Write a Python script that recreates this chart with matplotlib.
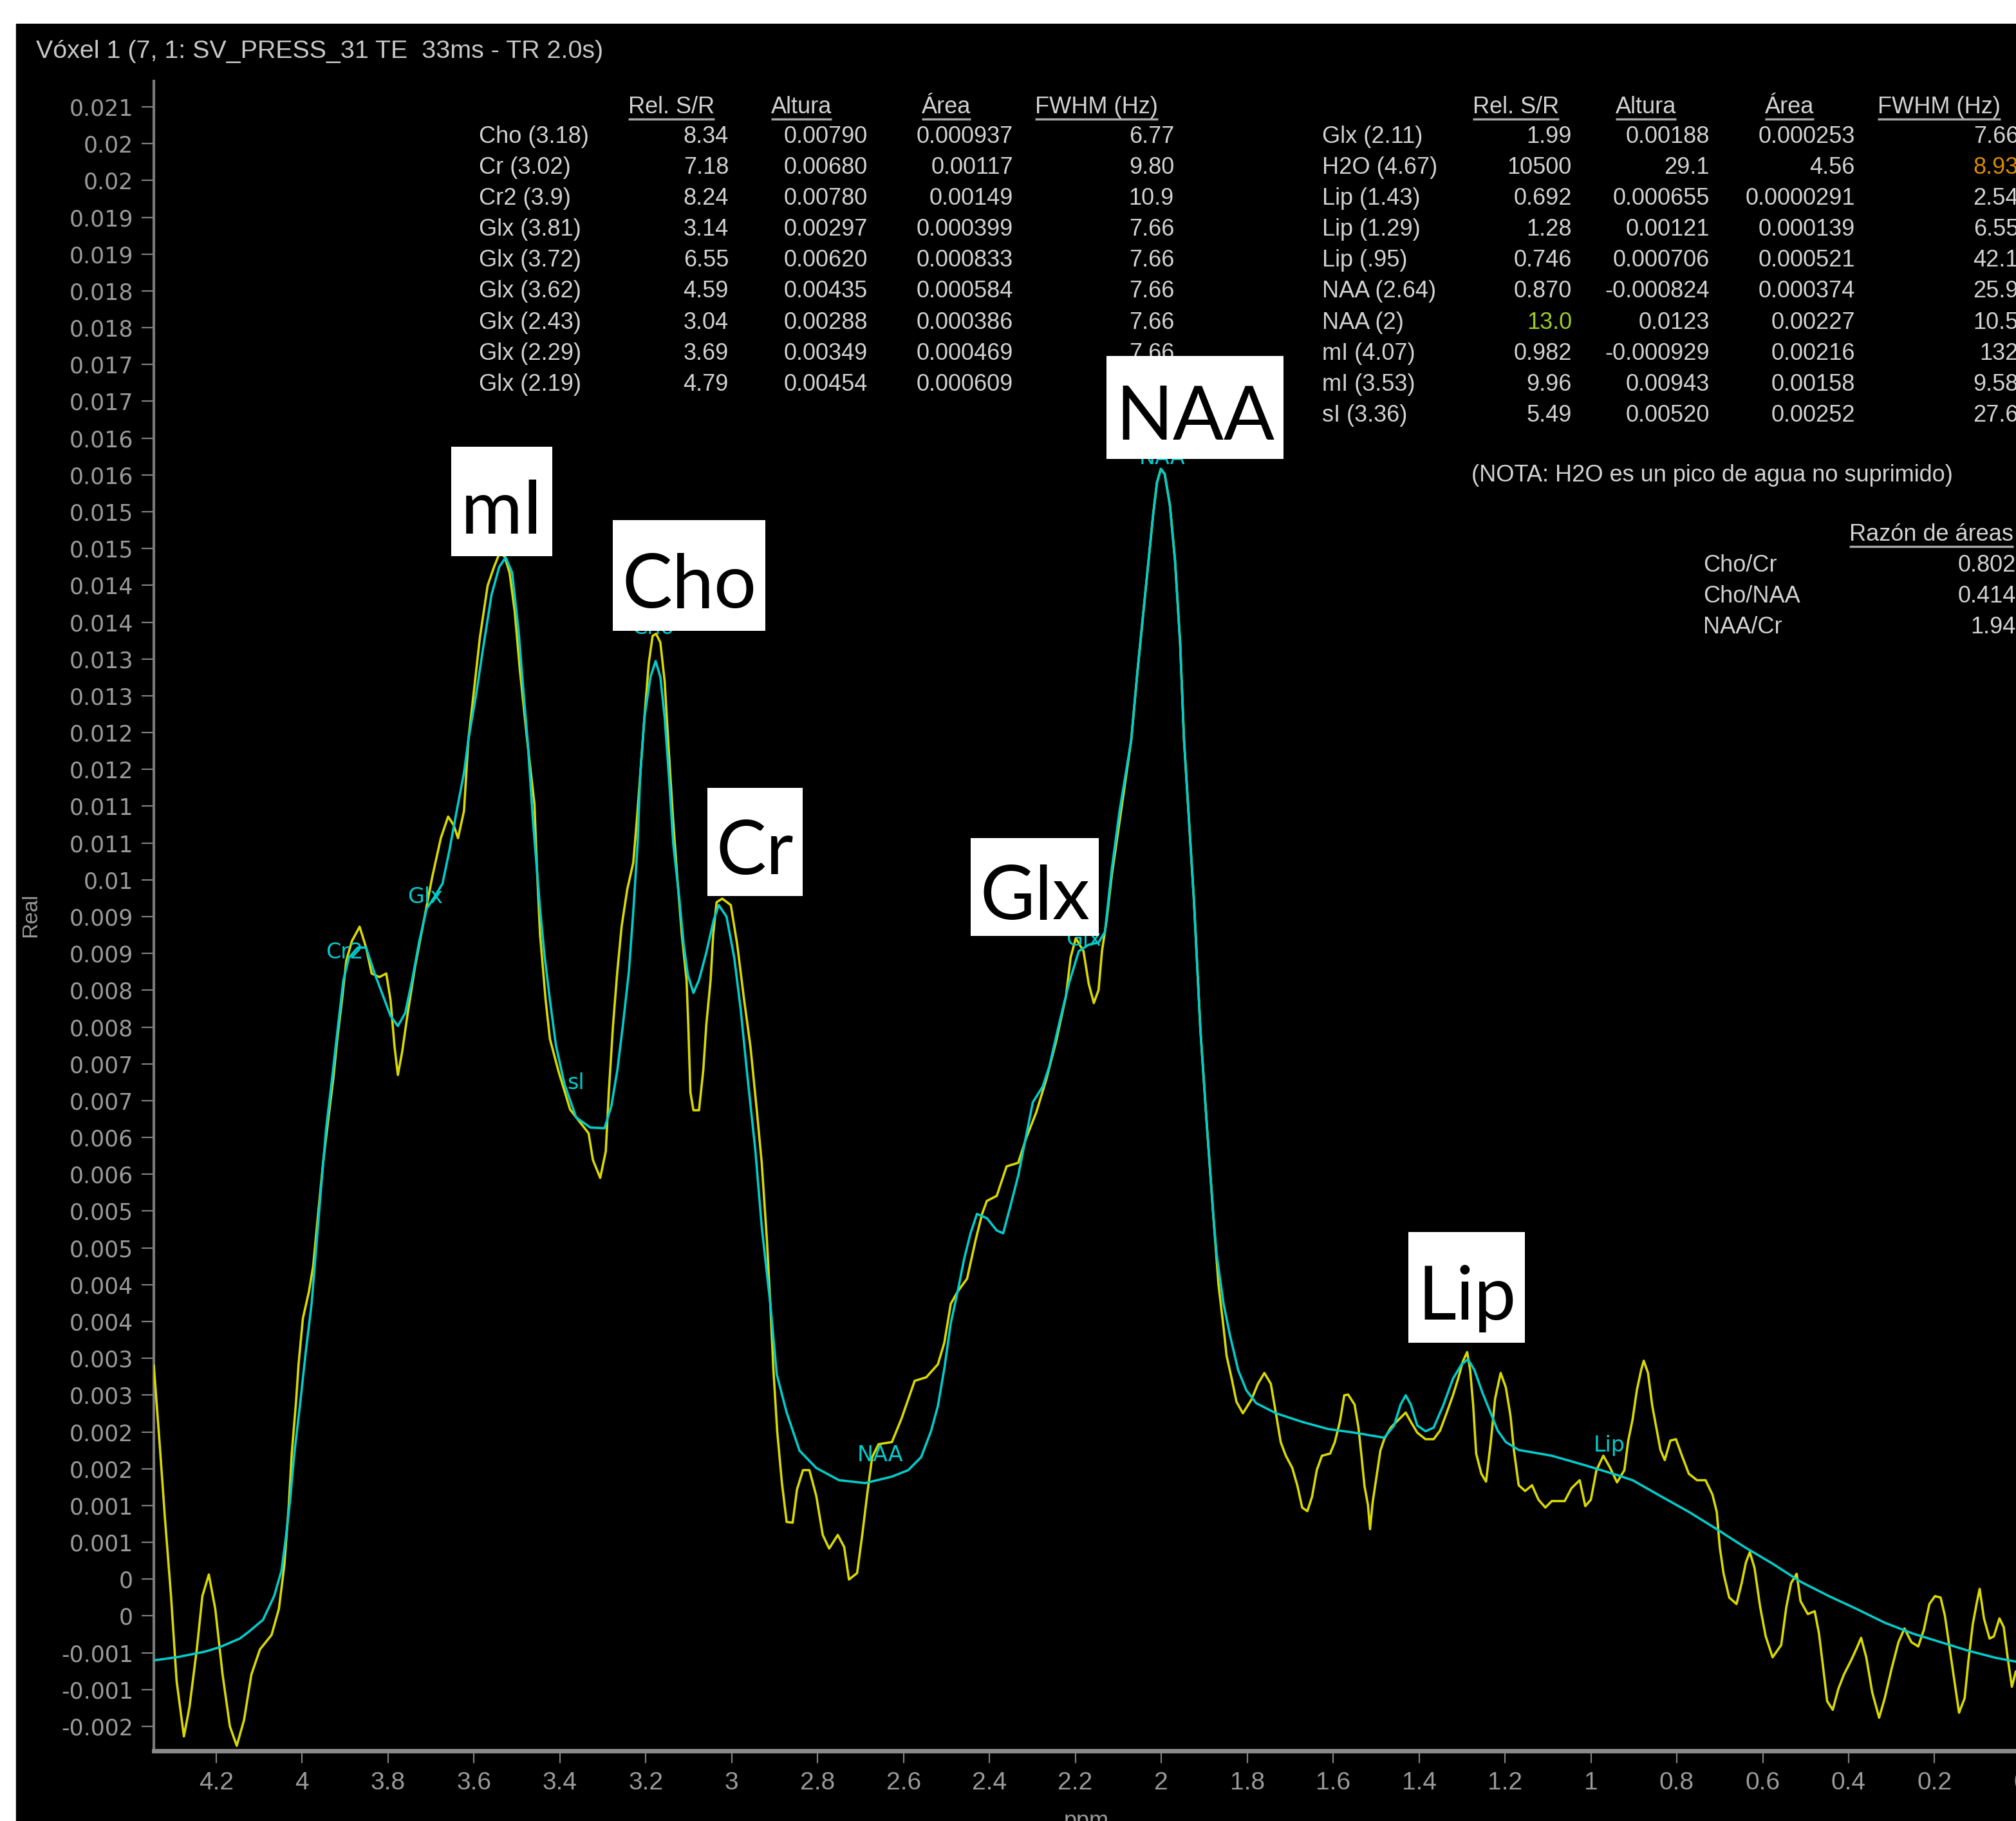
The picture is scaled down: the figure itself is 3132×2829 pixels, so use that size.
import numpy as np
import matplotlib
matplotlib.use("Agg")
import matplotlib.pyplot as plt
from matplotlib import font_manager
from matplotlib.patches import Rectangle

# --- espectro medido (amarillo) ---
ppm_real = np.array([
    4.345, 4.332, 4.319, 4.305, 4.292, 4.275, 4.262, 4.245, 4.232, 4.217,
    4.202, 4.185, 4.168, 4.152, 4.135, 4.118, 4.098, 4.071, 4.054, 4.041,
    4.031, 4.024, 4.014, 4.008, 3.998, 3.984, 3.974, 3.964, 3.951, 3.938,
    3.927, 3.918, 3.907, 3.897, 3.884, 3.866, 3.851, 3.838, 3.820, 3.804,
    3.794, 3.785, 3.777, 3.767, 3.754, 3.737, 3.717, 3.697, 3.677, 3.660,
    3.647, 3.637, 3.623, 3.613, 3.601, 3.586, 3.568, 3.553, 3.541, 3.529,
    3.517, 3.505, 3.493, 3.476, 3.459, 3.453, 3.446, 3.433, 3.423, 3.403,
    3.376, 3.350, 3.333, 3.323, 3.306, 3.293, 3.286, 3.276, 3.266, 3.256,
    3.243, 3.229, 3.221, 3.213, 3.203, 3.193, 3.184, 3.176, 3.166, 3.156,
    3.146, 3.136, 3.126, 3.116, 3.105, 3.101, 3.096, 3.089, 3.076, 3.066,
    3.059, 3.049, 3.043, 3.035, 3.022, 3.002, 2.987, 2.972, 2.956, 2.941,
    2.930, 2.918, 2.910, 2.903, 2.894, 2.883, 2.872, 2.858, 2.848, 2.834,
    2.819, 2.803, 2.788, 2.773, 2.753, 2.738, 2.727, 2.708, 2.696, 2.685,
    2.673, 2.658, 2.627, 2.605, 2.574, 2.547, 2.520, 2.505, 2.490, 2.474,
    2.452, 2.432, 2.417, 2.406, 2.383, 2.360, 2.333, 2.314, 2.291, 2.268,
    2.245, 2.222, 2.211, 2.199, 2.181, 2.169, 2.157, 2.146, 2.138, 2.127,
    2.115, 2.100, 2.085, 2.070, 2.055, 2.043, 2.031, 2.019, 2.010, 2.001,
    1.992, 1.980, 1.968, 1.956, 1.947, 1.935, 1.924, 1.909, 1.894, 1.878,
    1.867, 1.855, 1.848, 1.836, 1.825, 1.810, 1.790, 1.775, 1.760, 1.745,
    1.732, 1.722, 1.710, 1.695, 1.683, 1.672, 1.660, 1.649, 1.638, 1.626,
    1.607, 1.596, 1.584, 1.574, 1.565, 1.550, 1.541, 1.534, 1.527, 1.519,
    1.514, 1.508, 1.500, 1.490, 1.481, 1.466, 1.446, 1.431, 1.419, 1.404,
    1.385, 1.366, 1.351, 1.336, 1.321, 1.309, 1.298, 1.288, 1.281, 1.274,
    1.267, 1.255, 1.244, 1.233, 1.223, 1.210, 1.198, 1.187, 1.179, 1.168,
    1.153, 1.137, 1.122, 1.106, 1.091, 1.061, 1.045, 1.026, 1.013, 1.000,
    0.987, 0.971, 0.955, 0.939, 0.922, 0.913, 0.903, 0.893, 0.883, 0.877,
    0.867, 0.857, 0.847, 0.838, 0.828, 0.815, 0.802, 0.788, 0.772, 0.753,
    0.733, 0.717, 0.707, 0.700, 0.691, 0.678, 0.661, 0.649, 0.639, 0.630,
    0.619, 0.606, 0.593, 0.577, 0.557, 0.545, 0.534, 0.521, 0.512, 0.495,
    0.479, 0.469, 0.459, 0.450, 0.437, 0.424, 0.411, 0.394, 0.381, 0.371,
    0.359, 0.345, 0.329, 0.316, 0.300, 0.284, 0.270, 0.254, 0.238, 0.225,
    0.212, 0.199, 0.186, 0.176, 0.166, 0.157, 0.143, 0.130, 0.121, 0.111,
    0.101, 0.095, 0.085, 0.072, 0.062, 0.049, 0.039, 0.029, 0.020, 0.011])
real = np.array([
    0.00351, 0.00247, 0.00138, 0.00031, -0.00087, -0.00164, -0.00123, -0.00043, 0.00031, 0.00061,
    0.00013, -0.00078, -0.00150, -0.00177, -0.00141, -0.00078, -0.00043, -0.00023, 0.00013, 0.00075,
    0.00156, 0.00229, 0.00301, 0.00354, 0.00417, 0.00454, 0.00490, 0.00553, 0.00633, 0.00698,
    0.00751, 0.00805, 0.00859, 0.00914, 0.00941, 0.00961, 0.00932, 0.00896, 0.00891, 0.00896,
    0.00859, 0.00796, 0.00755, 0.00787, 0.00841, 0.00905, 0.00968, 0.01030, 0.01084, 0.01114,
    0.01102, 0.01084, 0.01122, 0.01220, 0.01283, 0.01363, 0.01435, 0.01461, 0.01479, 0.01476,
    0.01453, 0.01399, 0.01318, 0.01220, 0.01131, 0.01039, 0.00950, 0.00859, 0.00805, 0.00760,
    0.00707, 0.00687, 0.00674, 0.00637, 0.00612, 0.00649, 0.00731, 0.00825, 0.00900, 0.00962,
    0.01013, 0.01050, 0.01107, 0.01170, 0.01252, 0.01327, 0.01365, 0.01368, 0.01356, 0.01302,
    0.01202, 0.01107, 0.01025, 0.00950, 0.00887, 0.00825, 0.00731, 0.00706, 0.00706, 0.00762,
    0.00825, 0.00887, 0.00950, 0.00995, 0.01000, 0.00991, 0.00936, 0.00864, 0.00793, 0.00703,
    0.00633, 0.00526, 0.00437, 0.00347, 0.00260, 0.00188, 0.00134, 0.00133, 0.00179, 0.00206,
    0.00206, 0.00170, 0.00116, 0.00097, 0.00116, 0.00099, 0.00054, 0.00063, 0.00116, 0.00170,
    0.00224, 0.00242, 0.00245, 0.00277, 0.00330, 0.00335, 0.00353, 0.00383, 0.00437, 0.00454,
    0.00472, 0.00526, 0.00562, 0.00580, 0.00587, 0.00628, 0.00633, 0.00668, 0.00703, 0.00748,
    0.00801, 0.00864, 0.00918, 0.00945, 0.00927, 0.00882, 0.00855, 0.00873, 0.00927, 0.00971,
    0.01033, 0.01095, 0.01157, 0.01220, 0.01318, 0.01390, 0.01461, 0.01533, 0.01578, 0.01597,
    0.01590, 0.01547, 0.01470, 0.01354, 0.01220, 0.01104, 0.00998, 0.00819, 0.00686, 0.00553,
    0.00465, 0.00404, 0.00365, 0.00333, 0.00301, 0.00285, 0.00304, 0.00326, 0.00341, 0.00326,
    0.00281, 0.00245, 0.00226, 0.00209, 0.00184, 0.00154, 0.00149, 0.00169, 0.00206, 0.00226,
    0.00229, 0.00245, 0.00274, 0.00310, 0.00311, 0.00297, 0.00265, 0.00226, 0.00184, 0.00158,
    0.00124, 0.00161, 0.00193, 0.00233, 0.00249, 0.00265, 0.00277, 0.00286, 0.00273, 0.00258,
    0.00249, 0.00249, 0.00261, 0.00285, 0.00310, 0.00333, 0.00357, 0.00370, 0.00345, 0.00297,
    0.00229, 0.00201, 0.00190, 0.00245, 0.00305, 0.00341, 0.00321, 0.00281, 0.00233, 0.00185,
    0.00177, 0.00185, 0.00165, 0.00154, 0.00163, 0.00163, 0.00181, 0.00192, 0.00156, 0.00165,
    0.00206, 0.00226, 0.00209, 0.00189, 0.00206, 0.00247, 0.00276, 0.00317, 0.00345, 0.00358,
    0.00341, 0.00295, 0.00263, 0.00234, 0.00220, 0.00247, 0.00249, 0.00226, 0.00201, 0.00192,
    0.00192, 0.00172, 0.00148, 0.00099, 0.00062, 0.00029, 0.00020, 0.00049, 0.00078, 0.00092,
    0.00070, 0.00016, -0.00025, -0.00054, -0.00037, 0.00016, 0.00049, 0.00062, 0.00024, 0.00006,
    0.00010, -0.00021, -0.00070, -0.00115, -0.00127, -0.00098, -0.00078, -0.00058, -0.00041, -0.00027,
    -0.00054, -0.00103, -0.00138, -0.00111, -0.00070, -0.00033, -0.00014, -0.00033, -0.00039, -0.00016,
    0.00020, 0.00031, 0.00029, 0.00004, -0.00037, -0.00074, -0.00131, -0.00111, -0.00058, -0.00008,
    0.00024, 0.00041, 0.00000, -0.00028, -0.00025, 0.00000, -0.00012, -0.00058, -0.00095, -0.00074])

# --- ajuste del modelo (cian) ---
ppm_fit = np.array([
    4.342, 4.292, 4.225, 4.192, 4.145, 4.125, 4.091, 4.065, 4.048, 4.038,
    4.028, 4.018, 4.004, 3.991, 3.978, 3.968, 3.957, 3.944, 3.930, 3.918,
    3.904, 3.891, 3.870, 3.851, 3.831, 3.811, 3.794, 3.777, 3.760, 3.744,
    3.727, 3.710, 3.690, 3.673, 3.657, 3.640, 3.623, 3.613, 3.595, 3.577,
    3.559, 3.541, 3.526, 3.511, 3.496, 3.484, 3.475, 3.463, 3.446, 3.436,
    3.423, 3.409, 3.389, 3.362, 3.329, 3.296, 3.280, 3.266, 3.253, 3.239,
    3.229, 3.219, 3.213, 3.203, 3.189, 3.177, 3.166, 3.156, 3.146, 3.136,
    3.122, 3.112, 3.102, 3.089, 3.076, 3.059, 3.042, 3.030, 3.012, 2.994,
    2.979, 2.964, 2.945, 2.930, 2.910, 2.895, 2.872, 2.842, 2.803, 2.750,
    2.689, 2.627, 2.589, 2.559, 2.536, 2.520, 2.505, 2.490, 2.474, 2.459,
    2.444, 2.429, 2.406, 2.383, 2.368, 2.352, 2.333, 2.318, 2.299, 2.276,
    2.261, 2.237, 2.215, 2.192, 2.169, 2.146, 2.131, 2.115, 2.097, 2.070,
    2.055, 2.043, 2.031, 2.019, 2.010, 2.001, 1.992, 1.980, 1.968, 1.956,
    1.947, 1.935, 1.924, 1.909, 1.894, 1.878,
    1.871, 1.855, 1.840, 1.821, 1.802, 1.779, 1.733, 1.672, 1.611, 1.550,
    1.481, 1.458, 1.443, 1.431, 1.419, 1.404, 1.385, 1.366, 1.343, 1.321,
    1.301, 1.286, 1.271, 1.252, 1.233, 1.217, 1.198, 1.168, 1.091, 1.015,
    0.938, 0.903, 0.838, 0.772, 0.707, 0.642, 0.577, 0.512, 0.446, 0.381,
    0.316, 0.251, 0.186, 0.121, 0.056, 0.011])
fit = np.array([
    -0.00058, -0.00054, -0.00046, -0.00040, -0.00028, -0.00019, -0.00002, 0.00031, 0.00066, 0.00111,
    0.00163, 0.00229, 0.00301, 0.00372, 0.00436, 0.00508, 0.00589, 0.00680, 0.00751, 0.00814,
    0.00886, 0.00918, 0.00932, 0.00932, 0.00896, 0.00864, 0.00837, 0.00823, 0.00841, 0.00886,
    0.00941, 0.00986, 0.01004, 0.01021, 0.01067, 0.01122, 0.01175, 0.01220, 0.01283, 0.01354,
    0.01422, 0.01461, 0.01474, 0.01453, 0.01372, 0.01283, 0.01220, 0.01112, 0.00986, 0.00923,
    0.00859, 0.00796, 0.00742, 0.00696, 0.00682, 0.00681, 0.00712, 0.00762, 0.00825, 0.00900,
    0.00982, 0.01076, 0.01170, 0.01252, 0.01308, 0.01330, 0.01308, 0.01252, 0.01170, 0.01076,
    0.01001, 0.00938, 0.00894, 0.00869, 0.00887, 0.00925, 0.00970, 0.00991, 0.00975, 0.00918,
    0.00846, 0.00757, 0.00651, 0.00544, 0.00437, 0.00339, 0.00286, 0.00233, 0.00209, 0.00192,
    0.00188, 0.00197, 0.00206, 0.00224, 0.00260, 0.00295, 0.00347, 0.00410, 0.00454, 0.00499,
    0.00535, 0.00562, 0.00556, 0.00539, 0.00535, 0.00571, 0.00615, 0.00660, 0.00717, 0.00739,
    0.00766, 0.00828, 0.00882, 0.00927, 0.00936, 0.00939, 0.00954, 0.01042, 0.01122, 0.01220,
    0.01318, 0.01390, 0.01461, 0.01533, 0.01578, 0.01597, 0.01590, 0.01547, 0.01470, 0.01354,
    0.01220, 0.01104, 0.00998, 0.00819, 0.00686, 0.00553,
    0.00505, 0.00437, 0.00393, 0.00345, 0.00317, 0.00299, 0.00285, 0.00273, 0.00263, 0.00258,
    0.00251, 0.00268, 0.00297, 0.00310, 0.00297, 0.00268, 0.00260, 0.00265, 0.00297, 0.00333,
    0.00353, 0.00360, 0.00345, 0.00313, 0.00285, 0.00261, 0.00245, 0.00234, 0.00226, 0.00213,
    0.00199, 0.00192, 0.00170, 0.00148, 0.00124, 0.00099, 0.00076, 0.00051, 0.00031, 0.00013,
    -0.00006, -0.00021, -0.00033, -0.00045, -0.00055, -0.00060])

# ejes
ytick_labels = ['0.021', '0.02', '0.02', '0.019', '0.019', '0.018', '0.018', '0.017', '0.017',
                '0.016', '0.016', '0.015', '0.015', '0.014', '0.014', '0.013', '0.013', '0.012',
                '0.012', '0.011', '0.011', '0.01', '0.009', '0.009', '0.008', '0.008', '0.007',
                '0.007', '0.006', '0.006', '0.005', '0.005', '0.004', '0.004', '0.003', '0.003',
                '0.002', '0.002', '0.001', '0.001', '0', '0', '-0.001', '-0.001', '-0.002']
xtick_vals = [4.2, 4.0, 3.8, 3.6, 3.4, 3.2, 3.0, 2.8, 2.6, 2.4, 2.2, 2.0,
              1.8, 1.6, 1.4, 1.2, 1.0, 0.8, 0.6, 0.4, 0.2, 0.0]
xtick_labels = ['4.2', '4', '3.8', '3.6', '3.4', '3.2', '3', '2.8', '2.6', '2.4', '2.2', '2',
                '1.8', '1.6', '1.4', '1.2', '1', '0.8', '0.6', '0.4', '0.2', '0']

# tabla de picos (izquierda)
left_names = ['Cho (3.18)', 'Cr (3.02)', 'Cr2 (3.9)', 'Glx (3.81)', 'Glx (3.72)',
              'Glx (3.62)', 'Glx (2.43)', 'Glx (2.29)', 'Glx (2.19)']
left_snr = ['8.34', '7.18', '8.24', '3.14', '6.55', '4.59', '3.04', '3.69', '4.79']
left_alt = ['0.00790', '0.00680', '0.00780', '0.00297', '0.00620', '0.00435',
            '0.00288', '0.00349', '0.00454']
left_area = ['0.000937', '0.00117', '0.00149', '0.000399', '0.000833', '0.000584',
             '0.000386', '0.000469', '0.000609']
left_fwhm = ['6.77', '9.80', '10.9', '7.66', '7.66', '7.66', '7.66', '7.66', '7.66']

# tabla de picos (derecha)
right_names = ['Glx (2.11)', 'H2O (4.67)', 'Lip (1.43)', 'Lip (1.29)', 'Lip (.95)',
               'NAA (2.64)', 'NAA (2)', 'mI (4.07)', 'mI (3.53)', 'sI (3.36)']
right_snr = ['1.99', '10500', '0.692', '1.28', '0.746', '0.870', '13.0', '0.982', '9.96', '5.49']
right_alt = ['0.00188', '29.1', '0.000655', '0.00121', '0.000706', '-0.000824',
             '0.0123', '-0.000929', '0.00943', '0.00520']
right_area = ['0.000253', '4.56', '0.0000291', '0.000139', '0.000521', '0.000374',
              '0.00227', '0.00216', '0.00158', '0.00252']
right_fwhm = ['7.66', '8.93', '2.54', '6.55', '42.1', '25.9', '10.5', '132', '9.58', '27.6']

ratio_names = ['Cho/Cr', 'Cho/NAA', 'NAA/Cr']
ratio_vals = ['0.802', '0.414', '1.94']

# etiquetas grandes de los picos (centro de la caja y alto en px)
peak_labels = ['mI', 'Cho', 'Cr', 'Glx', 'NAA', 'Lip']
peak_ppm = [3.535, 3.099, 2.946, 2.294, 1.921, 1.289]
peak_y = [0.01552, 0.01449, 0.01079, 0.01016, 0.01682, 0.00460]
peak_box_h = [170, 172, 168, 152, 160, 172]

# marcas del ajuste sobre la curva
tag_names = ['Cr2', 'Glx', 'Cho', 'sl', 'NAA', 'Glx', 'NAA', 'Lip']
tag_ppm = [3.945, 3.754, 3.232, 3.382, 2.708, 2.222, 2.052, 0.994]
tag_y = [0.00925, 0.01002, 0.01376, 0.00744, 0.00227, 0.00943, 0.01612, 0.00240]

W, H = 3132, 2829
YELLOW = '#d8d800'
CYAN = '#00cccc'
TXT = '#d2d2d2'
GREY = '#9a9a9a'

# letra estrecha si esta instalada, si no la normal
_installed = {f.name for f in font_manager.fontManager.ttflist}
if 'Liberation Sans Narrow' in _installed:
    SANS, K = 'Liberation Sans Narrow', 1.18
else:
    SANS, K = 'Liberation Sans', 1.0
FS = 26 * K

fig = plt.figure(figsize=(W / 100, H / 100), dpi=100)
fig.patch.set_facecolor('white')

# capa de fondo en pixeles: panel negro y textos
bg = fig.add_axes([0, 0, 1, 1])
bg.set_xlim(0, W)
bg.set_ylim(H, 0)
bg.axis('off')
bg.set_zorder(0)
bg.add_patch(Rectangle((25, 37), W, H, color='black', zorder=0))

bg.text(56, 80, 'Vóxel 1 (7, 1: SV_PRESS_31 TE  33ms - TR 2.0s)', color='#c8c8c8',
        fontsize=28.4 * K, family=SANS, ha='left', va='center')

renderer = fig.canvas.get_renderer()


def header(x, y, s, ha='left'):
    t = bg.text(x, y, s, color=TXT, fontsize=FS, family=SANS, ha=ha, va='center')
    bb = t.get_window_extent(renderer)
    bg.plot([bb.x0, bb.x1], [y + 19, y + 19], color='#a8a8a8', lw=2.5,
            solid_capstyle='butt')


def table(x_name, head_x, right_x, names, cols, y0=212, step=48.2, colors=None):
    heads = ['Rel. S/R', 'Altura', 'Área', 'FWHM (Hz)']
    for hx, h in zip(head_x, heads):
        header(hx, y0 - 46, h)
    for i, name in enumerate(names):
        y = y0 + step * i
        bg.text(x_name, y, name, color=TXT, fontsize=FS, family=SANS, ha='left', va='center')
        for j, (rx, col) in enumerate(zip(right_x, cols)):
            c = TXT
            if colors and (i, j) in colors:
                c = colors[(i, j)]
            bg.text(rx, y, col[i], color=c, fontsize=FS, family=SANS, ha='right', va='center')


table(744, [976, 1198, 1432, 1608], [1132, 1348, 1574, 1824],
      left_names, [left_snr, left_alt, left_area, left_fwhm])
table(2054, [2288, 2510, 2742, 2917], [2442, 2656, 2882, 3136],
      right_names, [right_snr, right_alt, right_area, right_fwhm],
      colors={(6, 0): '#9ccc22', (1, 3): '#d88a00'})

bg.text(2286, 738, '(NOTA: H2O es un pico de agua no suprimido)', color=TXT,
        fontsize=FS, family=SANS, ha='left', va='center')
t = bg.text(3128, 830, 'Razón de áreas', color=TXT, fontsize=FS, family=SANS,
            ha='right', va='center')
bb = t.get_window_extent(renderer)
bg.plot([bb.x0, bb.x1], [849, 849], color='#a8a8a8', lw=2.5, solid_capstyle='butt')
for i, (n, v) in enumerate(zip(ratio_names, ratio_vals)):
    y = 878 + 48.5 * i
    bg.text(2646, y, n, color=TXT, fontsize=FS, family=SANS, ha='left', va='center')
    bg.text(3132, y, v, color=TXT, fontsize=FS, family=SANS, ha='right', va='center')

bg.text(48, 1422, 'Real', color=GREY, fontsize=24 * K, family=SANS, rotation=90,
        ha='center', va='center')
bg.text(1688, 2812, 'ppm', color=GREY, fontsize=26 * K, family=SANS, ha='center', va='top')

# espectro
ax = fig.add_axes([239 / W, 109 / H, 2940 / W, 2594 / H])
ax.set_zorder(1)
ax.set_facecolor('none')
ax.set_xlim(4.345, -0.06)
ax.set_ylim(-0.00184, 0.021358)

ax.plot(ppm_real, real, color=YELLOW, lw=2.6, zorder=3)
ax.plot(ppm_fit, fit, color=CYAN, lw=2.6, zorder=4)

for n, p, v in zip(tag_names, tag_ppm, tag_y):
    ax.text(p, v, n, color=CYAN, fontsize=24, family='DejaVu Sans', ha='left',
            va='center', zorder=5)

# cajas blancas con el nombre del metabolito
LABEL_FS = 84
cap_px = 0.7165 * LABEL_FS * 100 / 72
inv = ax.transData.inverted()
for lab, p, v, bh in zip(peak_labels, peak_ppm, peak_y, peak_box_h):
    cx, cy = ax.transData.transform((p, v))
    bx, by = inv.transform((cx, cy - 8 - cap_px / 2))
    t = ax.text(bx, by, lab, color='black', fontsize=LABEL_FS, family='Lato',
                ha='center', va='baseline', zorder=7)
    w = t.get_window_extent(renderer).width + 28
    x0, y0 = inv.transform((cx - w / 2, cy - bh / 2))
    x1, y1 = inv.transform((cx + w / 2, cy + bh / 2))
    ax.add_patch(Rectangle((x0, y0), x1 - x0, y1 - y0, fc='white', ec='none', zorder=6))

ax.set_yticks(np.linspace(0.021, -0.0015, len(ytick_labels)))
ax.set_yticklabels(ytick_labels, fontsize=25, family='DejaVu Sans')
ax.set_xticks(xtick_vals)
ax.set_xticklabels(xtick_labels, fontsize=28 * K, family=SANS)
ax.tick_params(axis='y', direction='out', length=14, width=1.6, color='#808080',
               labelcolor=GREY, pad=9)
ax.tick_params(axis='x', direction='out', length=14, width=1.6, color='#808080',
               labelcolor=GREY, pad=9)
for s in ('top', 'right'):
    ax.spines[s].set_visible(False)
ax.spines['left'].set_color('#7a7a7a')
ax.spines['left'].set_linewidth(3)
ax.spines['bottom'].set_color('#8a8a8a')
ax.spines['bottom'].set_linewidth(5)

fig.savefig('out.png', dpi=100, facecolor='white')
